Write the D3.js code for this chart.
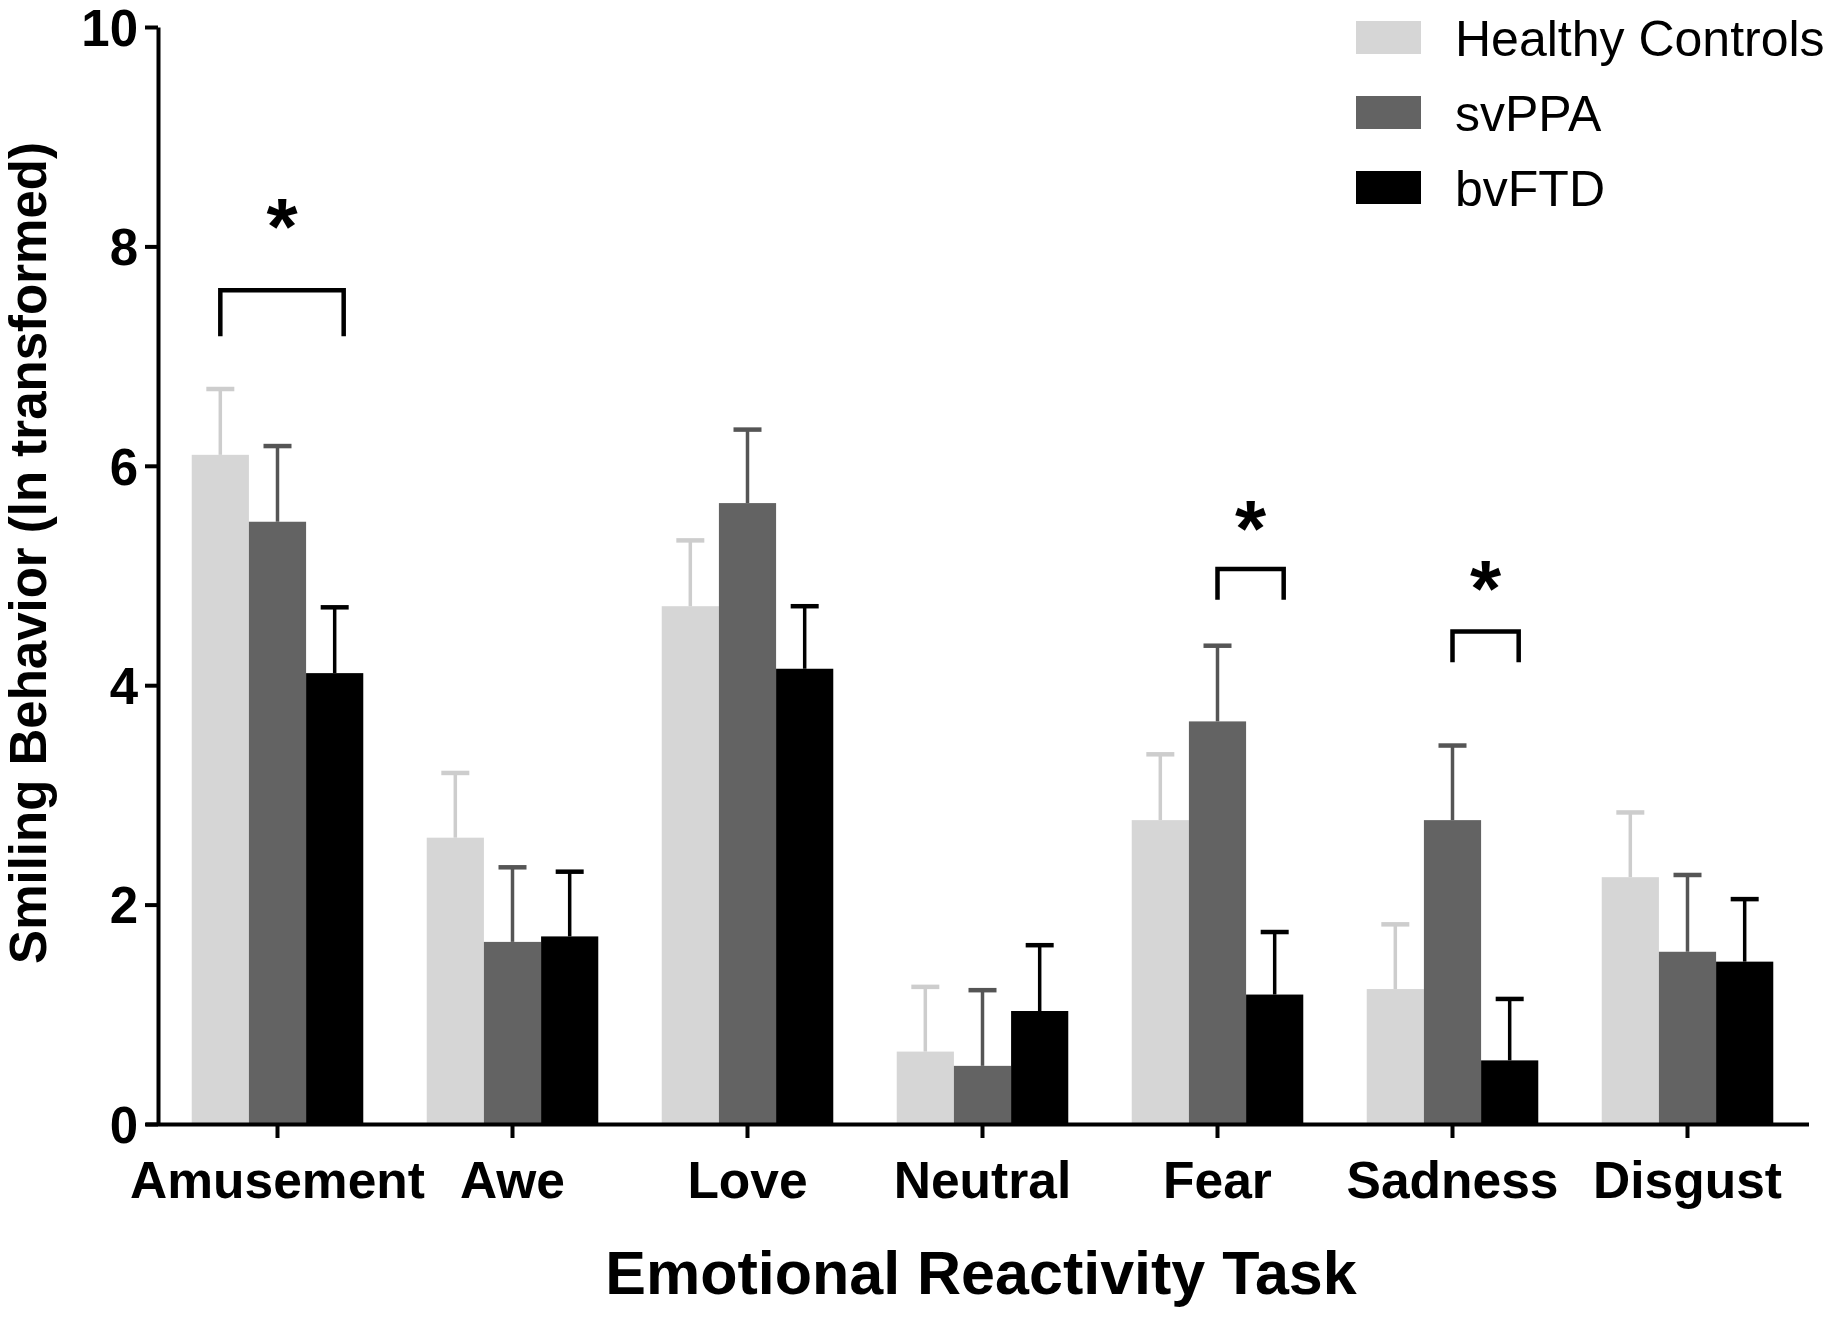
<!DOCTYPE html>
<html>
<head>
<meta charset="utf-8">
<script src="https://cdn.jsdelivr.net/npm/d3@7"></script>
<style>
  html, body { margin: 0; padding: 0; background: #fff; }
  svg { display: block; }
  text { font-family: "Liberation Sans", Arial, Helvetica, sans-serif; }
</style>
</head>
<body>
<svg id="chart" width="1836" height="1322"></svg>
<script>
// ---- data ----
const categories = ["Amusement", "Awe", "Love", "Neutral", "Fear", "Sadness", "Disgust"];
const groups = ["Healthy Controls", "svPPA", "bvFTD"];
const healthyMeans = [6.10, 2.61, 4.72, 0.66, 2.77, 1.23, 2.25];
const healthyErr   = [0.60, 0.59, 0.60, 0.59, 0.60, 0.59, 0.59];
const svppaMeans   = [5.49, 1.66, 5.66, 0.53, 3.67, 2.77, 1.57];
const svppaErr     = [0.69, 0.68, 0.67, 0.69, 0.69, 0.68, 0.70];
const bvftdMeans   = [4.11, 1.71, 4.15, 1.03, 1.18, 0.58, 1.48];
const bvftdErr     = [0.60, 0.59, 0.57, 0.60, 0.57, 0.56, 0.57];
const yTicks = [0, 2, 4, 6, 8, 10];
// significance brackets: category, first group, second group, bracket top, leg bottom, star level
const sigCategory = ["Amusement", "Fear", "Sadness"];
const sigFrom     = [0, 1, 1];
const sigTo       = [2, 2, 2];
const sigTop      = [7.60, 5.06, 4.49];
const sigLeg      = [7.18, 4.78, 4.21];
const sigStar     = [8.20, 5.45, 4.90];

const fills = ["#d6d6d6", "#636363", "#000000"];
const errColors = ["#cdcdcd", "#555555", "#000000"];
const means = [healthyMeans, svppaMeans, bvftdMeans];
const errs = [healthyErr, svppaErr, bvftdErr];

const svg = d3.select("#chart");

const x = d3.scaleBand().domain(categories).range([160, 1805]).paddingInner(0.27).paddingOuter(0.135);
const xs = d3.scaleBand().domain(d3.range(groups.length)).range([0, x.bandwidth()]).padding(0);
const y = d3.scaleLinear().domain([0, 10]).range([1124, 27]);

// bars
const barData = [];
categories.forEach((c, i) => {
  groups.forEach((g, j) => {
    barData.push({ c, j, v: means[j][i], e: errs[j][i] });
  });
});

const bars = svg.append("g");
bars.selectAll("rect").data(barData).join("rect")
  .attr("x", d => x(d.c) + xs(d.j))
  .attr("y", d => y(d.v))
  .attr("width", xs.bandwidth())
  .attr("height", d => y(0) - y(d.v))
  .attr("fill", d => fills[d.j]);

// error bars
const eb = svg.append("g");
eb.selectAll("line.stem").data(barData).join("line")
  .attr("class", "stem")
  .attr("x1", d => x(d.c) + xs(d.j) + xs.bandwidth() / 2)
  .attr("x2", d => x(d.c) + xs(d.j) + xs.bandwidth() / 2)
  .attr("y1", d => y(d.v))
  .attr("y2", d => y(d.v + d.e))
  .attr("stroke", d => errColors[d.j])
  .attr("stroke-width", 3.5);
eb.selectAll("line.cap").data(barData).join("line")
  .attr("class", "cap")
  .attr("x1", d => x(d.c) + xs(d.j) + xs.bandwidth() / 2 - 14)
  .attr("x2", d => x(d.c) + xs(d.j) + xs.bandwidth() / 2 + 14)
  .attr("y1", d => y(d.v + d.e))
  .attr("y2", d => y(d.v + d.e))
  .attr("stroke", d => errColors[d.j])
  .attr("stroke-width", 4.5);

// axes
const yAxis = d3.axisLeft(y).tickValues(yTicks).tickSize(13).tickSizeOuter(0).tickPadding(8);
const gy = svg.append("g").attr("transform", "translate(158,0)").call(yAxis);
gy.select(".domain").attr("stroke", "#000").attr("stroke-width", 4);
gy.selectAll(".tick line").attr("stroke", "#000").attr("stroke-width", 4);
gy.selectAll(".tick text").attr("font-size", 51).attr("font-weight", "bold").attr("fill", "#000")
  .attr("dy", "0.36em").attr("x", -20);

const xAxis = d3.axisBottom(x).tickSize(14).tickSizeOuter(0).tickPadding(14);
const gx = svg.append("g").attr("transform", "translate(0,1124)").call(xAxis);
gx.select(".domain").attr("stroke", "#000").attr("stroke-width", 4).attr("d", "M146,0.5H1809");
gx.selectAll(".tick line").attr("stroke", "#000").attr("stroke-width", 4);
gx.selectAll(".tick text").attr("font-size", 51.5).attr("font-weight", "bold").attr("fill", "#000")
  .attr("dy", "0.71em").attr("y", 37);

// axis titles
svg.append("text")
  .attr("transform", "translate(46,553) rotate(-90)")
  .attr("text-anchor", "middle")
  .attr("font-size", 51).attr("font-weight", "bold")
  .text("Smiling Behavior (ln transformed)");

svg.append("text")
  .attr("x", 981).attr("y", 1294)
  .attr("text-anchor", "middle")
  .attr("font-size", 61).attr("font-weight", "bold")
  .text("Emotional Reactivity Task");

// significance brackets
const sig = svg.append("g");
sigCategory.forEach((c, k) => {
  const x1 = x(c) + xs(sigFrom[k]) + xs.bandwidth() / 2;
  const x2 = x(c) + xs(sigTo[k]) + xs.bandwidth() / 2 + 9;
  sig.append("path")
    .attr("d", `M${x1},${y(sigLeg[k])}V${y(sigTop[k])}H${x2}V${y(sigLeg[k])}`)
    .attr("fill", "none").attr("stroke", "#000").attr("stroke-width", 4.5);
  sig.append("text")
    .attr("x", (x1 + x2) / 2).attr("y", y(sigStar[k]))
    .attr("text-anchor", "middle").attr("dominant-baseline", "central")
    .attr("font-size", 80).attr("font-weight", "bold")
    .attr("dy", "0.03em")
    .text("*");
});

// legend
const legend = svg.append("g");
groups.forEach((g, j) => {
  const cy = 38 + j * 75;
  legend.append("rect").attr("x", 1356).attr("y", cy - 17).attr("width", 65).attr("height", 33).attr("fill", fills[j]);
  legend.append("text").attr("x", 1455).attr("y", cy).attr("dy", "0.36em")
    .attr("font-size", 50).text(g);
});
</script>
</body>
</html>
